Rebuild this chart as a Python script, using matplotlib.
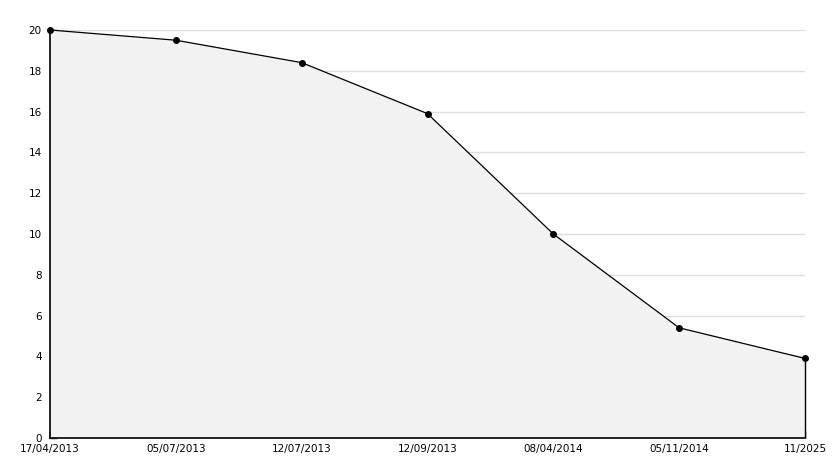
import matplotlib
matplotlib.use("Agg")
import matplotlib.pyplot as plt
import numpy as np
from matplotlib.ticker import MultipleLocator

dates = ["17/04/2013", "05/07/2013", "12/07/2013", "12/09/2013",
         "08/04/2014", "05/11/2014", "11/2025"]
values = [20, 19.5, 18.4, 15.9, 10, 5.4, 3.9]

fig = plt.figure(figsize=(8.34, 4.68), dpi=100)
ax = fig.add_axes([50 / 834, 1 - 438 / 468, 755 / 834, 408 / 468])

x = np.arange(len(dates))
for yv in range(2, 21, 2):
    ax.axhline(yv, color="#dddddd", lw=1, zorder=1)
ax.fill_between(x, values, 0, color="#f2f2f2", lw=0, zorder=2)
ax.plot(x, values, color="black", lw=0.9, zorder=3, clip_on=False)
ax.plot(x, values, ls="none", marker="o", ms=4, color="black", zorder=4, clip_on=False)
ax.vlines(x[-1], 0, values[-1], color="black", lw=1, zorder=3, clip_on=False)

ax.set_xlim(0, len(dates) - 1)
ax.set_ylim(0, 20)
ax.set_xticks(x)
ax.set_xticklabels(dates)
ax.yaxis.set_major_locator(MultipleLocator(2))
ax.yaxis.set_minor_locator(MultipleLocator(1))

for s in ["top", "right"]:
    ax.spines[s].set_visible(False)
for s in ["left", "bottom"]:
    ax.spines[s].set_linewidth(1.2)
    ax.spines[s].set_zorder(5)

ax.tick_params(axis="y", direction="in", length=5, width=1, labelsize=7.5, pad=6)
ax.tick_params(axis="y", which="minor", direction="in", length=4, width=1)
ax.tick_params(axis="x", direction="in", length=5, width=1, labelsize=7.5, pad=4)

plt.savefig("out.png", dpi=100)
